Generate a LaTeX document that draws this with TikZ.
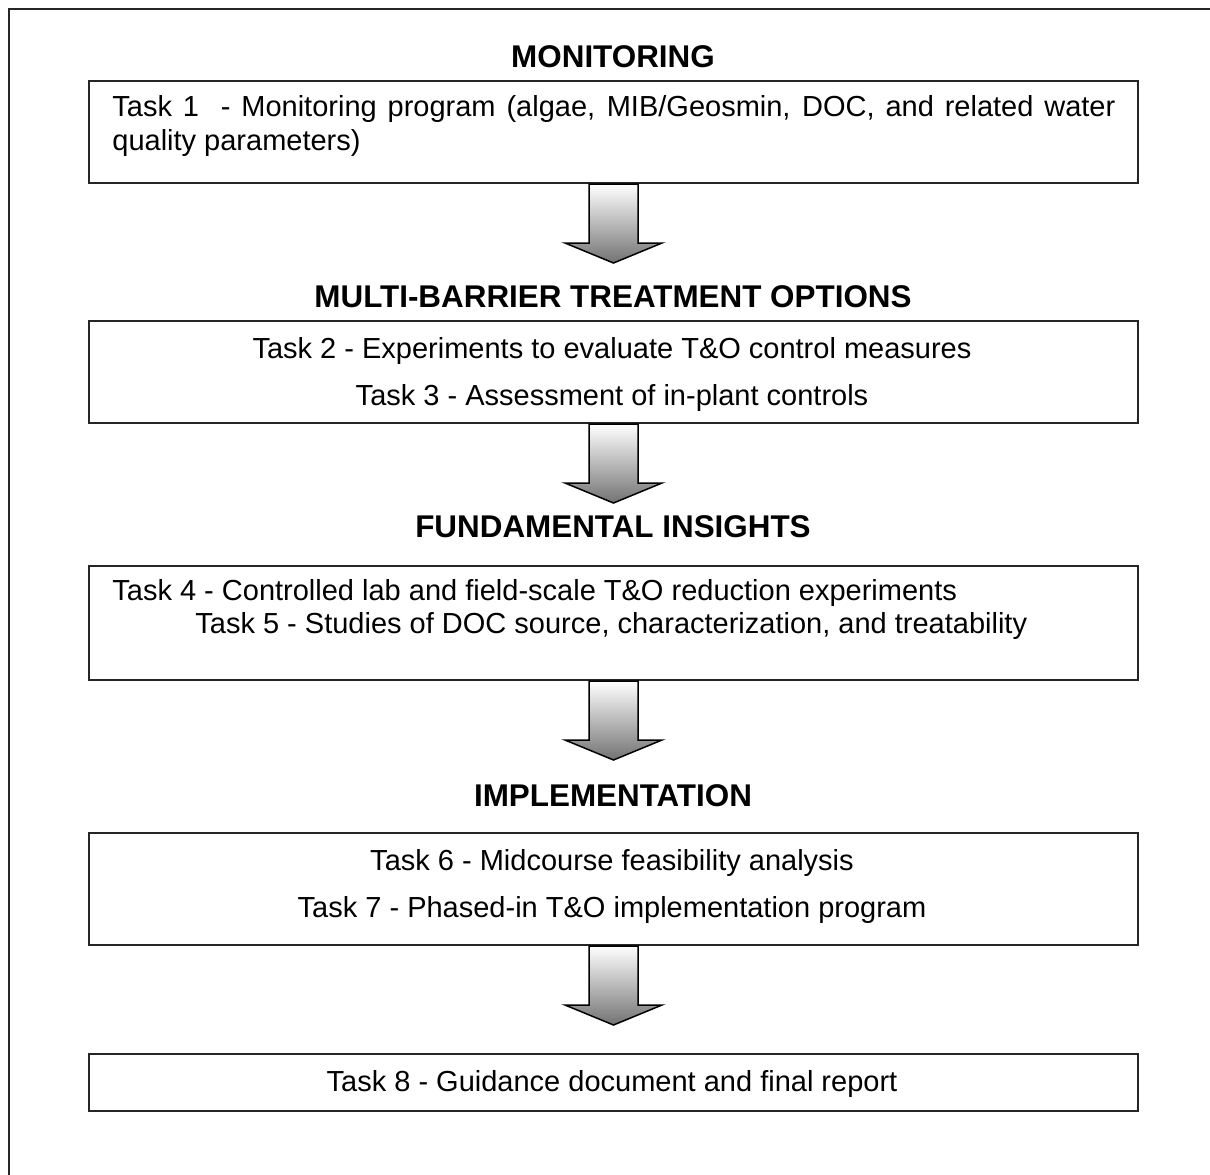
\documentclass[tikz,border=0pt]{standalone}
\usepackage{fontspec}
\setmainfont{Liberation Sans}
\usetikzlibrary{calc}
\tikzset{
  taskbox/.style={draw=black!85, line width=1pt, rectangle, anchor=north west, inner sep=0pt},
  heading/.style={font=\fontsize{15.7pt}{18pt}\selectfont\bfseries, inner sep=0pt, anchor=base},
  tasktext/.style={font=\fontsize{14.5pt}{17pt}\selectfont, inner sep=0pt, anchor=base},
  tasktextl/.style={tasktext, anchor=base west},
  fatarrow/.style={draw=black, line width=0.75pt, top color=white, bottom color=black!55, line join=miter},
}
\newcommand{\blockarrow}[1]{%
  \shadedraw[fatarrow] ($(#1.south)+(-24.5,0)$) -- ++(0,59) -- ++(-24,0)
    -- ++(48.5,20) -- ++(48.5,-20) -- ++(-24,0) -- ++(0,-59) -- cycle;}
\begin{document}
\begin{tikzpicture}[x=0.5pt, y=-0.5pt]
\useasboundingbox (0,0) rectangle (1210,1174);
\clip (0,0) rectangle (1210,1174);
\fill[white] (0,0) rectangle (1210,1174);
% outer frame (extends beyond the right and bottom edges)
\draw[line width=1pt, black!85] (9,9) rectangle (1240,1200);

% boxes
\node[taskbox, minimum width=524.5pt, minimum height=51pt] (b1) at (88,80) {};
\node[taskbox, minimum width=524.5pt, minimum height=51pt] (b2) at (88,320) {};
\node[taskbox, minimum width=524.5pt, minimum height=57pt] (b3) at (88,565) {};
\node[taskbox, minimum width=524.5pt, minimum height=56pt] (b4) at (88,832) {};
\node[taskbox, minimum width=524.5pt, minimum height=28.5pt] (b5) at (88,1053) {};

% arrows
\blockarrow{b1}
\blockarrow{b2}
\blockarrow{b3}
\blockarrow{b4}

% headings
\node[heading] (h1) at (613,67) {MONITORING};
\node[heading] (h2) at (613,307) {MULTI-BARRIER TREATMENT OPTIONS};
\node[heading] (h3) at (613,537) {FUNDAMENTAL INSIGHTS};
\node[heading] (h4) at (613,806) {IMPLEMENTATION};

% task texts
\node[tasktextl] (t1a) at (112,116) {\makebox[501.5pt][s]{Task 1 \ - Monitoring program (algae, MIB/Geosmin, DOC, and related water}};
\node[tasktextl] (t1b) at (112,150) {quality parameters)};
\node[tasktext] (t2) at (612,358) {Task 2 - Experiments to evaluate T\&O control measures};
\node[tasktext] (t3) at (612,405) {Task 3 - Assessment of in-plant controls};
\node[tasktextl] (t4) at (112,600) {Task 4 - Controlled lab and field-scale T\&O reduction experiments};
\node[tasktextl] (t5) at (195,633) {Task 5 - Studies of DOC source, characterization, and treatability};
\node[tasktext] (t6) at (612,870) {Task 6 - Midcourse feasibility analysis};
\node[tasktext] (t7) at (612,917) {Task 7 - Phased-in T\&O implementation program};
\node[tasktext] (t8) at (612,1091) {Task 8 - Guidance document and final report};
\end{tikzpicture}
\end{document}
